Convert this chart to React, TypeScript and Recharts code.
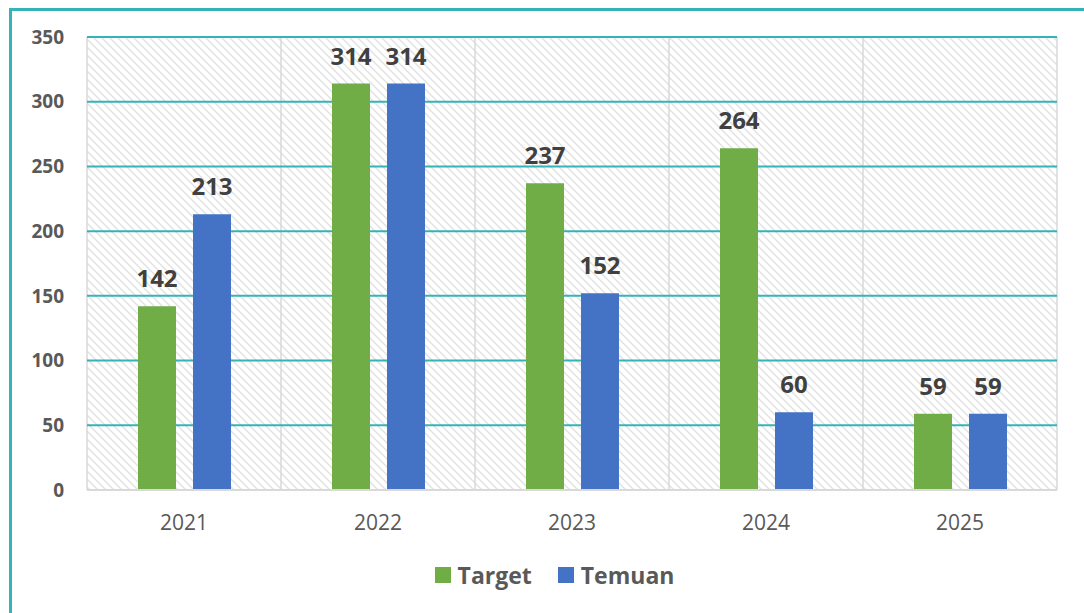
import { BarChart, Bar, XAxis, YAxis, CartesianGrid, Legend, LabelList } from 'recharts';

const years = ['2021', '2022', '2023', '2024', '2025'];
const target = [142, 314, 237, 264, 59];
const temuan = [213, 314, 152, 60, 59];
const yTicks = [0, 50, 100, 150, 200, 250, 300, 350];

const GREEN = '#70ad47';
const BLUE = '#4472c4';
const TEAL = '#34b4b8';
const FONT = '"Open Sans", "Noto Sans", sans-serif';

const data = years.map((year, i) => ({ year, Target: target[i], Temuan: temuan[i] }));

// Vertical separators sit on category boundaries, not at tick centres.
function boundaryLines({ offset }: any) {
  const step = offset.width / years.length;
  return Array.from({ length: years.length + 1 }, (_, i) => offset.left + i * step);
}

function LegendContent({ payload }: any) {
  return (
    <div style={{ display: 'flex', justifyContent: 'center', gap: 26, fontFamily: FONT, paddingLeft: 25 }}>
      {(payload || []).map((p: any) => (
        <div key={p.value} style={{ display: 'flex', alignItems: 'center', gap: 7 }}>
          <span style={{ width: 16, height: 16, background: p.color, display: 'inline-block' }} />
          <span style={{ fontSize: 23, fontWeight: 700, color: '#595959', lineHeight: '30px' }}>{p.value}</span>
        </div>
      ))}
    </div>
  );
}

export default function App() {
  return (
    <div style={{ position: 'absolute', left: 0, top: 0, width: 1084, height: 613, overflow: 'hidden', background: '#fff' }}>
      <svg width={0} height={0} style={{ position: 'absolute' }}>
        <defs>
          <pattern id="hatch" patternUnits="userSpaceOnUse" width={8} height={8}>
            <path d="M-1,-1 L9,9 M-1,7 L1,9 M7,-1 L9,1" stroke="#e2e2e2" strokeWidth={1.5} />
          </pattern>
        </defs>
      </svg>
      <div
        style={{
          position: 'absolute', left: 9, top: 8, width: 1200, height: 800,
          borderTop: `3px solid ${TEAL}`, borderLeft: `3px solid ${TEAL}`,
        }}
      />
      <div style={{ position: 'absolute', left: 0, top: 0 }}>
        <BarChart
          width={1084}
          height={613}
          data={data}
          margin={{ top: 37, right: 27, bottom: 29, left: 0 }}
          barSize={38}
          barGap={17}
        >
          <CartesianGrid
            horizontal={false}
            verticalCoordinatesGenerator={boundaryLines}
            stroke="#d9d9d9"
            strokeWidth={1.5}
            fill="url(#hatch)"
          />
          <CartesianGrid vertical={false} stroke={TEAL} strokeWidth={2} />
          <XAxis
            dataKey="year"
            height={64}
            tickSize={0}
            tickMargin={25}
            axisLine={{ stroke: '#d9d9d9', strokeWidth: 2 }}
            tick={{ fontSize: 21, fill: '#595959', fontFamily: FONT }}
          />
          <YAxis
            width={87}
            domain={[0, 350]}
            ticks={yTicks}
            axisLine={false}
            tickLine={false}
            tickSize={0}
            tickMargin={23}
            tick={{ fontSize: 19, fontWeight: 700, fill: '#595959', fontFamily: FONT }}
          />
          <Legend
            verticalAlign="bottom"
            content={<LegendContent />}
            wrapperStyle={{ top: 560, left: 0, width: 1084 }}
          />
          <Bar dataKey="Target" fill={GREEN} isAnimationActive={false}>
            <LabelList
              dataKey="Target"
              position="top"
              offset={19}
              style={{ fontSize: 24, fontWeight: 700, fill: '#404040', fontFamily: FONT }}
            />
          </Bar>
          <Bar dataKey="Temuan" fill={BLUE} isAnimationActive={false}>
            <LabelList
              dataKey="Temuan"
              position="top"
              offset={19}
              style={{ fontSize: 24, fontWeight: 700, fill: '#404040', fontFamily: FONT }}
            />
          </Bar>
        </BarChart>
      </div>
    </div>
  );
}
